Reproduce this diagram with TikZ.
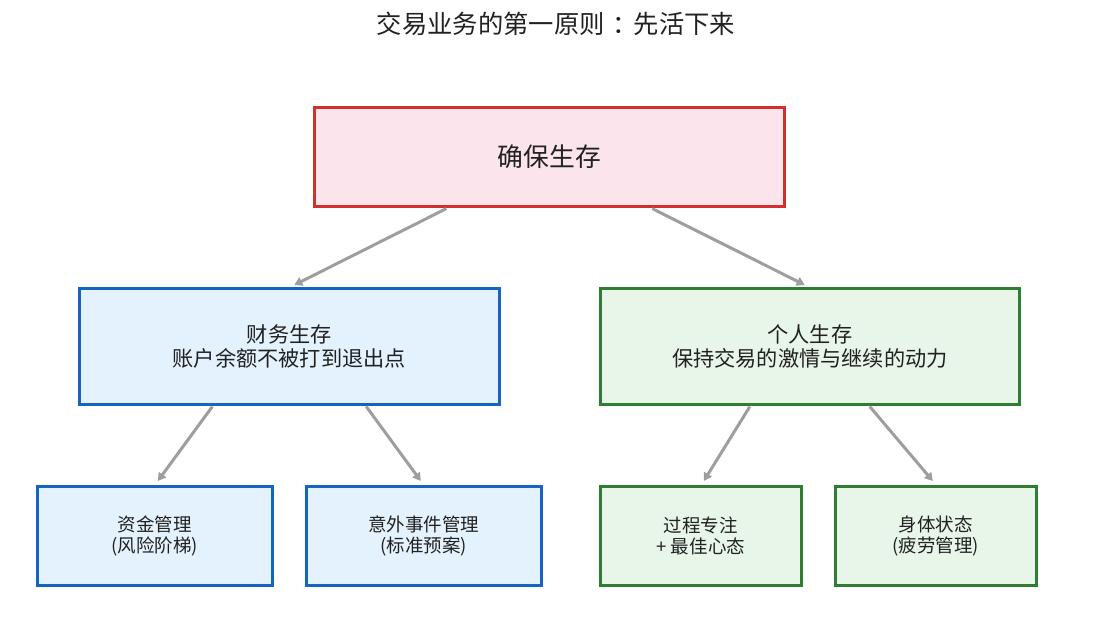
\documentclass[tikz,border=0pt]{standalone}
\usepackage{fontspec}
\setmainfont{Noto Sans CJK SC}
\usetikzlibrary{arrows.meta}
\definecolor{redE}{HTML}{D32F2F}
\definecolor{redF}{HTML}{FCE4EC}
\definecolor{blueE}{HTML}{1565C0}
\definecolor{blueF}{HTML}{E3F2FD}
\definecolor{greenE}{HTML}{2E7D32}
\definecolor{greenF}{HTML}{E8F5E9}
\definecolor{arr}{HTML}{9E9E9E}
\definecolor{txt}{HTML}{212121}
\tikzset{
  box/.style={draw, line width=2.6pt, anchor=north west, inner sep=0pt, align=center, text=txt},
  rootbox/.style={box, draw=redE, fill=redF, font=\fontsize{25.8}{30}\selectfont},
  bluemid/.style={box, draw=blueE, fill=blueF, font=\fontsize{21.2}{24}\selectfont},
  greenmid/.style={box, draw=greenE, fill=greenF, font=\fontsize{21.2}{24}\selectfont},
  bluelow/.style={box, draw=blueE, fill=blueF, font=\fontsize{18.5}{21}\selectfont},
  greenlow/.style={box, draw=greenE, fill=greenF, font=\fontsize{18.5}{21}\selectfont},
  conn/.style={draw=arr, line width=3pt, -{Triangle[length=8pt,width=9pt]}},
}
\begin{document}
\begin{tikzpicture}[x=1pt,y=-1pt]
\useasboundingbox (0,0) rectangle (1113,644);
\node[text=txt, font=\fontsize{25.3}{28}\selectfont] (title) at (556,24) {交易业务的第一原则\hspace{8pt}：\hspace{-4pt}先活下来};
\node[rootbox, minimum width=470pt, minimum height=99pt] (root) at (313,106) {确保生存};
\node[bluemid, minimum width=420pt, minimum height=116pt] (fin) at (78,287) {财务生存\\账户余额不被打到退出点};
\node[greenmid, minimum width=419pt, minimum height=116pt] (per) at (599,287) {个人生存\\保持交易的激情与继续的动力};
\node[bluelow, minimum width=235pt, minimum height=99pt] (money) at (36,485) {资金管理\\(风险阶梯)};
\node[bluelow, minimum width=235pt, minimum height=99pt] (event) at (305,485) {意外事件管理\\(标准预案)};
\node[greenlow, minimum width=201pt, minimum height=99pt] (focus) at (599,485) {过程专注\\+ 最佳心态};
\node[greenlow, minimum width=201pt, minimum height=99pt] (body) at (834,485) {身体状态\\(疲劳管理)};
\draw[conn] ([xshift=-103pt,yshift=-1pt]root.south) -- ([xshift=5pt,yshift=2pt]fin.north);
\draw[conn] ([xshift=103pt,yshift=-1pt]root.south) -- ([xshift=-5pt,yshift=2pt]per.north);
\draw[conn] ([xshift=-77pt,yshift=-1pt]fin.south) -- ([xshift=3pt,yshift=4pt]money.north);
\draw[conn] ([xshift=77pt,yshift=-1pt]fin.south) -- ([xshift=-3pt,yshift=4pt]event.north);
\draw[conn] ([xshift=-60pt,yshift=-1pt]per.south) -- ([xshift=3pt,yshift=4pt]focus.north);
\draw[conn] ([xshift=60pt,yshift=-1pt]per.south) -- ([xshift=-3pt,yshift=4pt]body.north);
\end{tikzpicture}
\end{document}
